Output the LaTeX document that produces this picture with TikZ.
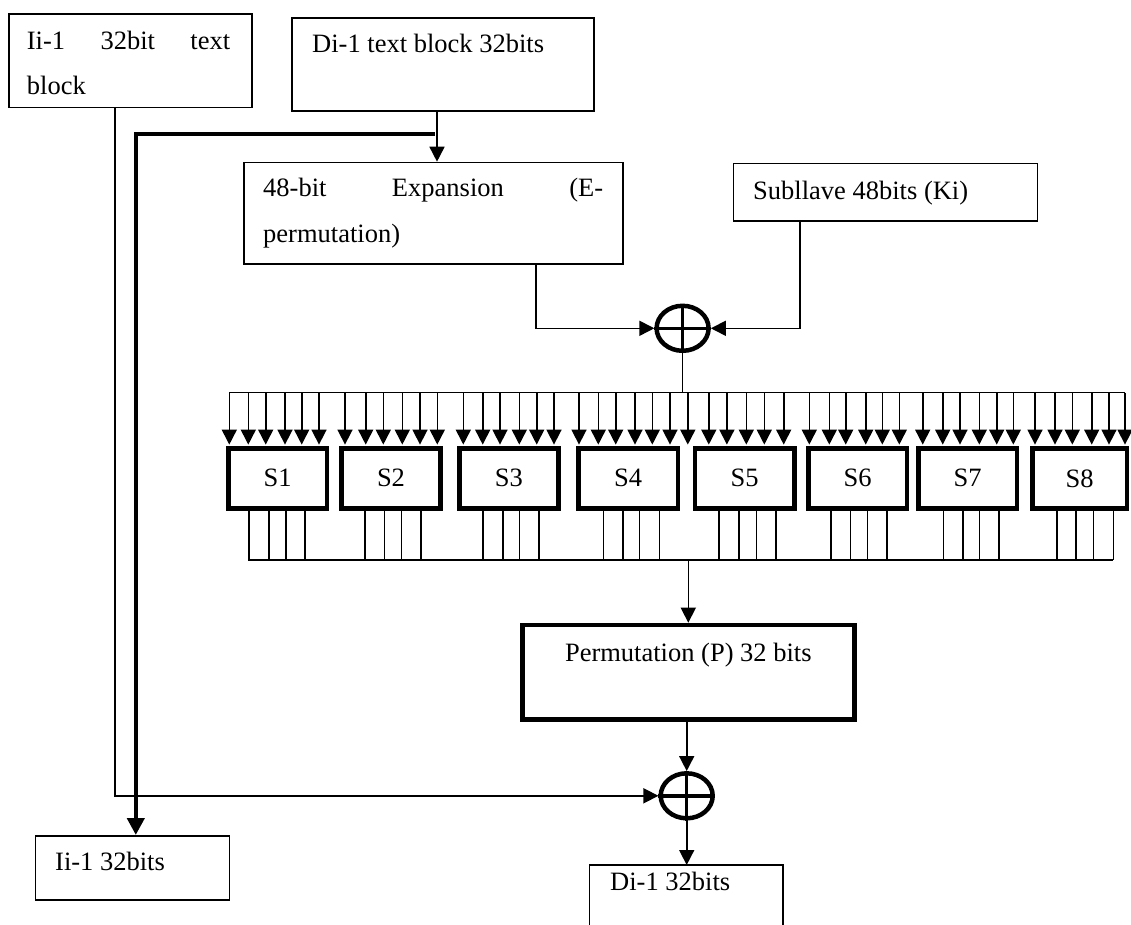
\documentclass[tikz,border=0pt]{standalone}
\usepackage{fontspec}
\setmainfont{Liberation Serif}
\usetikzlibrary{arrows.meta,shapes.geometric}
\begin{document}
\begin{tikzpicture}[x=1pt,y=-1pt,
  thinln/.style={line width=1.6pt},
  box/.style={draw, line width=1.6pt, inner sep=0pt, anchor=north west},
  sbox/.style={draw, line width=4.5pt, inner sep=0pt, minimum height=60pt, font=\fontsize{26.5}{46}\selectfont},
  txt/.style={inner sep=0pt, font=\fontsize{26.5}{46}\selectfont},
  arr/.style={line width=1.6pt, -{Triangle[length=15pt,width=15pt]}},
  tarr/.style={line width=4.5pt, -{Triangle[length=17pt,width=17pt]}},
  xorn/.style={draw, ellipse, line width=4.5pt, minimum width=52pt, minimum height=45pt, inner sep=0pt},
  crossln/.style={line width=3.5pt},
  ]
\useasboundingbox (0,0) rectangle (1131,925);

% boxes
\node[box, minimum width=242.7pt, minimum height=93.4pt] (A) at (8.3,13.3) {};
\node[box, minimum width=302pt, minimum height=93pt] (B) at (291,17.3) {};
\node[box, minimum width=379pt, minimum height=101.6pt] (C) at (243,161.7) {};
\node[box, minimum width=304pt, minimum height=57.3pt] (K) at (732.7,162.7) {};
\node[box, minimum width=194pt, minimum height=64.3pt] (I2) at (34.7,835) {};
\node[draw, line width=4.5pt, inner sep=0pt, minimum width=332pt, minimum height=94.5pt] (P) at (688.3,672.2) {};
\node[inner sep=0pt, outer sep=0pt, minimum width=193.4pt, minimum height=60pt, anchor=north west] (D) at (589.3,865) {};
\draw[thinln] (D.south west) -- (D.north west) -- (D.north east) -- (D.south east);

% texts
\node[txt, anchor=base west] (tA1) at (26.7,49.3) {\makebox[203.3pt][s]{Ii-1 32bit text}};
\node[txt, anchor=base west] (tA2) at (26.7,95) {block};
\node[txt, anchor=base west] (tB) at (312,52.7) {Di-1 text block 32bits};
\node[txt, anchor=base west] (tC1) at (263,196.5) {\makebox[340pt][s]{48-bit Expansion (E-}};
\node[txt, anchor=base west] (tC2) at (263,242) {permutation)};
\node[txt, anchor=base west] (tK) at (753,199.3) {Subllave 48bits (Ki)};
\node[txt, anchor=base] (tP) at (688.3,661) {Permutation (P) 32 bits};
\node[txt, anchor=base west] (tI2) at (55,870) {Ii-1 32bits};
\node[txt, anchor=base west] (tD) at (610,890) {Di-1 32bits};

% XOR nodes
\node[xorn] (x1) at (682.6,328.3) {};
\draw[crossln] (x1.north) -- (x1.south);
\draw[crossln] (x1.west) -- (x1.east);
\node[xorn] (x2) at (686.7,795.8) {};
\draw[crossln] (x2.north) -- (x2.south);
\draw[crossln] (x2.west) -- (x2.east);

% S boxes
\foreach \n/\cx/\w in {1/277.65/98.8, 2/391/98.8, 3/508.95/98.8, 4/628/99.5, 5/744.55/99.5, 6/857.65/98.8, 7/967.65/98.8, 8/1079.5/94.5}
  \node[sbox, minimum width=\w pt] (S\n) at (\cx,478.35) {S\n};

% buses
\coordinate (busL) at (229.3,392.5);
\coordinate (busR) at (1125,392.5);
\coordinate (lowL) at (248,560);
\coordinate (lowR) at (1113.3,560);
\draw[thinln] (busL) -- (busR);
\draw[thinln] (lowL) -- (lowR);
\draw[thinln] (x1.south) -- (x1.south |- busL);

% S-box inputs
\foreach \n/\xs in {1/{229.3,248.3,265.7,285,301.7,319},
                    2/{345,365.7,383.3,402.3,420,437.3},
                    3/{463.3,482.7,500,519.3,536.7,554},
                    4/{579,598.3,615.7,635,652.3,670},
                    5/{687.8,708.8,726.9,746.3,764.3,783.7},
                    6/{809.3,829.3,845.7,865.7,882.3,899.3},
                    7/{922.7,942.7,960,979.3,996.7,1013.3},
                    8/{1035,1055,1072.3,1091.7,1109,1125}}
  \foreach \x in \xs
    \draw[arr, shorten >=1.5pt] (\x,0 |- busL) -- (\x,0 |- S\n.north);

% S-box outputs
\foreach \n/\xs in {1/{249,269,285.7,305},
                    2/{365,384.3,401.3,420.7},
                    3/{482.7,502.7,519.3,539},
                    4/{603.3,622.7,639.3,659.3},
                    5/{719,738.8,756.5,775.9},
                    6/{831,850.3,867.3,886.7},
                    7/{943.3,962.7,979.3,999},
                    8/{1056.7,1076,1093.3,1113.3}}
  \foreach \x in \xs
    \draw[thinln] (\x,0 |- S\n.south) -- (\x,0 |- lowL);

% connectors
\coordinate (jB) at (437,134);
\draw[arr] (jB |- B.south) -- (jB |- C.north);
\draw[tarr] ([xshift=-2pt]jB) -| ([xshift=3.3pt]I2.north);
\draw[arr] ([xshift=-15.35pt]A.south) |- (x2.west);
\draw[arr] ([xshift=102.5pt]C.south) |- (x1.west);
\draw[arr] ([xshift=-85.7pt]K.south) |- (x1.east);
\draw[arr] (P.north |- lowL) -- (P.north);
\draw[arr] (x2.north |- P.south) -- (x2.north);
\draw[arr] (x2.south) -- (x2.south |- D.north);
\end{tikzpicture}
\end{document}
